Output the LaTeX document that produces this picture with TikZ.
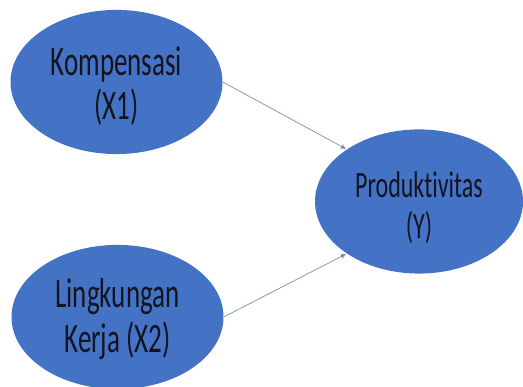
\documentclass[tikz,border=0pt]{standalone}
\usepackage{fontspec}
\setmainfont{Carlito}[Ligatures=NoCommon]
\usetikzlibrary{arrows.meta,shapes.geometric}

\definecolor{officeblue}{HTML}{4472C4}
\definecolor{arrowgrey}{HTML}{8C9AB5}
\definecolor{labeltext}{HTML}{141420}

\begin{document}
\begin{tikzpicture}[x=1pt,y=1pt,shorten >=1pt,draw=arrowgrey]
        \tikzstyle{construct}=[ellipse,fill=officeblue,draw=none,inner sep=0pt,
            minimum width=212pt,minimum height=93pt,align=center,
            text=labeltext,font=\fontsize{27}{28.5}\selectfont,
            text height=52.5pt,yscale=1.55,transform shape]
        \tikzstyle{dependent construct}=[construct,minimum width=208pt,
            font=\fontsize{24}{26}\selectfont,text height=50.5pt]
        \tikzstyle{effect}=[line width=0.8pt,-{Triangle[length=5pt,width=4.5pt,fill=officeblue]}]

        \useasboundingbox (0,0) rectangle (523,387);

        % Independent variables
        \node[construct] (X1) at (116.5,305) {Kompensasi\\(X1)};
        \node[construct,text height=50pt] (X2) at (117.5,70) {Lingkungan\\Kerja (X2)};

        % Dependent variable
        \node[dependent construct] (Y) at (419,185.5) {Produktivitas\\(Y)};

        % Paths to the dependent variable
        \draw[effect] (X1.east) -- (Y.155);
        \draw[effect] (X2.east) -- (Y.205);
\end{tikzpicture}
\end{document}
